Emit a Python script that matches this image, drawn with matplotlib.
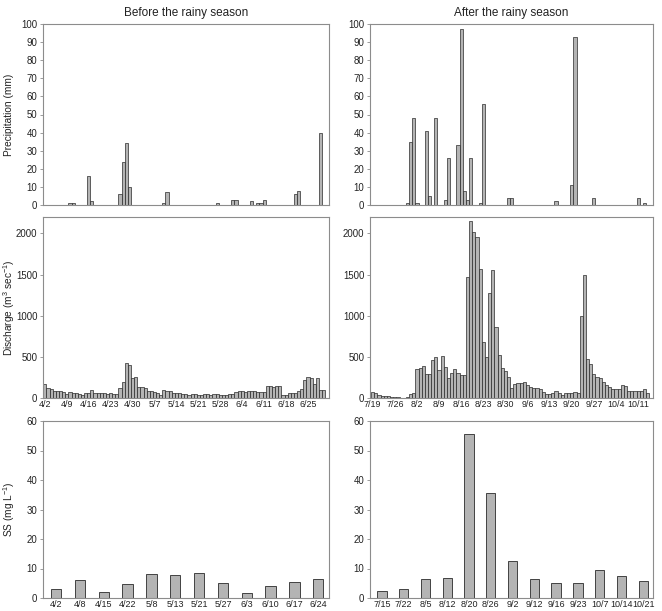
import matplotlib
matplotlib.use("Agg")
from matplotlib import pyplot as plt

plt.rcParams["font.family"] = ["Liberation Sans", "DejaVu Sans"]
plt.rcParams["mathtext.default"] = "regular"

# daily precipitation (mm), index = day from first date
precip_before = {8: 1, 9: 1, 14: 16, 15: 2, 24: 6, 25: 24, 26: 34, 27: 10,
                 38: 1, 39: 7, 55: 1, 60: 3, 61: 3, 66: 2, 68: 1, 69: 1,
                 70: 3, 80: 6, 81: 8, 88: 40}
precip_after = {11: 1, 12: 35, 13: 48, 14: 1, 17: 41, 18: 5, 20: 48, 23: 3,
                24: 26, 27: 33, 28: 97, 29: 8, 30: 3, 31: 26, 34: 1, 35: 56,
                43: 4, 44: 4, 58: 2, 63: 11, 64: 93, 70: 4, 84: 4, 86: 1}

# daily discharge (m3/s), 4/2 onwards and 7/19 onwards
discharge_before = [165, 125, 110, 90, 90, 90, 70, 50, 70, 65, 55, 45, 40, 65,
                    60, 100, 60, 55, 55, 60, 50, 55, 50, 50, 120, 190, 430, 400,
                    245, 255, 130, 130, 125, 85, 80, 75, 60, 40, 100, 80, 90, 55,
                    55, 55, 45, 50, 40, 50, 45, 40, 35, 45, 50, 40, 50, 45, 40,
                    40, 40, 45, 50, 75, 90, 80, 70, 80, 80, 80, 75, 70, 75, 145,
                    140, 130, 150, 150, 35, 40, 65, 65, 60, 80, 110, 220, 260,
                    245, 170, 240, 100, 100]
discharge_after = [77, 57, 37, 24, 28, 28, 16, 12, 8, 4, 4, 16, 49, 65,
                   350, 370, 394, 289, 289, 459, 504, 341, 512, 382, 244, 309,
                   354, 301, 285, 280, 1467, 2150, 2016, 1960, 1573, 679, 504,
                   1276, 1561, 858, 524, 362, 333, 260, 122, 170, 179, 179, 200,
                   158, 130, 126, 122, 106, 77, 53, 53, 65, 85, 65, 41, 57, 65,
                   61, 77, 57, 1000, 1500, 472, 415, 293, 260, 240, 200, 163,
                   130, 106, 106, 106, 163, 146, 89, 81, 81, 89, 81, 114, 57]

week_labels_before = ["4/2", "4/9", "4/16", "4/23", "4/30", "5/7", "5/14",
                      "5/21", "5/28", "6/4", "6/11", "6/18", "6/25"]
week_labels_after = ["7/19", "7/26", "8/2", "8/9", "8/16", "8/23", "8/30",
                     "9/6", "9/13", "9/20", "9/27", "10/4", "10/11"]

# suspended solids (mg/L) at sampling dates
ss_dates_before = ["4/2", "4/8", "4/15", "4/22", "5/8", "5/13", "5/21",
                   "5/27", "6/3", "6/10", "6/17", "6/24"]
ss_before = [3.2, 6.1, 2.1, 4.6, 8.3, 7.8, 8.5, 5.0, 1.7, 4.0, 5.5, 6.5]
ss_dates_after = ["7/15", "7/22", "8/5", "8/12", "8/20", "8/26", "9/2",
                  "9/12", "9/16", "9/23", "10/7", "10/14", "10/21"]
ss_after = [2.4, 3.0, 6.5, 6.9, 55.5, 35.6, 12.4, 6.3, 5.0, 5.2, 9.4, 7.4, 5.7]

BAR = "#b4b4b4"
EDGE = "#2a2a2a"
SPINE = "#8c8c8c"
TXT = "#222222"
FS = 6.9

fig = plt.figure(figsize=(6.62, 6.11), dpi=100)
lefts = [43 / 662, 370 / 662]
widths = [286 / 662, 283 / 662]
bottoms = [1 - 205 / 611, 1 - 398 / 611, 1 - 598 / 611]
heights = [181 / 611, 181 / 611, 177 / 611]

axes = [[fig.add_axes([lefts[c], bottoms[r], widths[c], heights[r]])
         for c in range(2)] for r in range(3)]


def style(ax):
    for s in ax.spines.values():
        s.set_color(SPINE)
        s.set_linewidth(0.8)
    ax.tick_params(axis="y", length=2.5, width=0.6, color=SPINE,
                   labelsize=FS, labelcolor=TXT, pad=1.5)
    ax.tick_params(axis="x", length=0, labelsize=FS, labelcolor=TXT, pad=1.5)


xlims = [(-0.6, 90.7), (-0.85, 88.7)]

# precipitation
for c, pr in enumerate([precip_before, precip_after]):
    ax = axes[0][c]
    ax.bar(list(pr.keys()), list(pr.values()), width=1.0, color=BAR,
           edgecolor=EDGE, linewidth=0.5)
    ax.set_xlim(*xlims[c])
    ax.set_ylim(0, 100)
    ax.set_yticks(range(0, 101, 10))
    ax.set_xticks([])
    style(ax)

axes[0][0].set_title("Before the rainy season", fontsize=8.5, color=TXT, pad=6)
axes[0][1].set_title("After the rainy season", fontsize=8.5, color=TXT, pad=6)

# discharge
for c, (dq, lab) in enumerate([(discharge_before, week_labels_before),
                               (discharge_after, week_labels_after)]):
    ax = axes[1][c]
    ax.bar(range(len(dq)), dq, width=1.0, color=BAR, edgecolor=EDGE,
           linewidth=0.5)
    ax.set_xlim(*xlims[c])
    ax.set_ylim(0, 2200)
    ax.set_yticks([0, 500, 1000, 1500, 2000])
    ax.set_xticks(range(0, 7 * len(lab), 7))
    style(ax)
    ax.set_xticklabels(lab, fontsize=6.4)

# suspended solids
for c, (vals, lab) in enumerate([(ss_before, ss_dates_before),
                                 (ss_after, ss_dates_after)]):
    ax = axes[2][c]
    ax.bar(range(len(vals)), vals, width=0.43, color=BAR, edgecolor=EDGE,
           linewidth=0.6)
    ax.set_xlim(-0.55, len(vals) - 0.55)
    ax.set_ylim(0, 60)
    ax.set_yticks(range(0, 61, 10))
    ax.set_xticks(range(len(vals)))
    style(ax)
    ax.set_xticklabels(lab, fontsize=6.5)

fig.text(0.013, bottoms[0] + heights[0] / 2, "Precipitation (mm)", rotation=90,
         ha="center", va="center", fontsize=7.3, color=TXT)
fig.text(0.013, bottoms[1] + heights[1] / 2, r"Discharge (m$^{3}$ sec$^{-1}$)",
         rotation=90, ha="center", va="center", fontsize=7.3, color=TXT)
fig.text(0.013, bottoms[2] + heights[2] / 2, r"SS (mg L$^{-1}$)", rotation=90,
         ha="center", va="center", fontsize=7.3, color=TXT)

fig.savefig("out.png", dpi=100)
